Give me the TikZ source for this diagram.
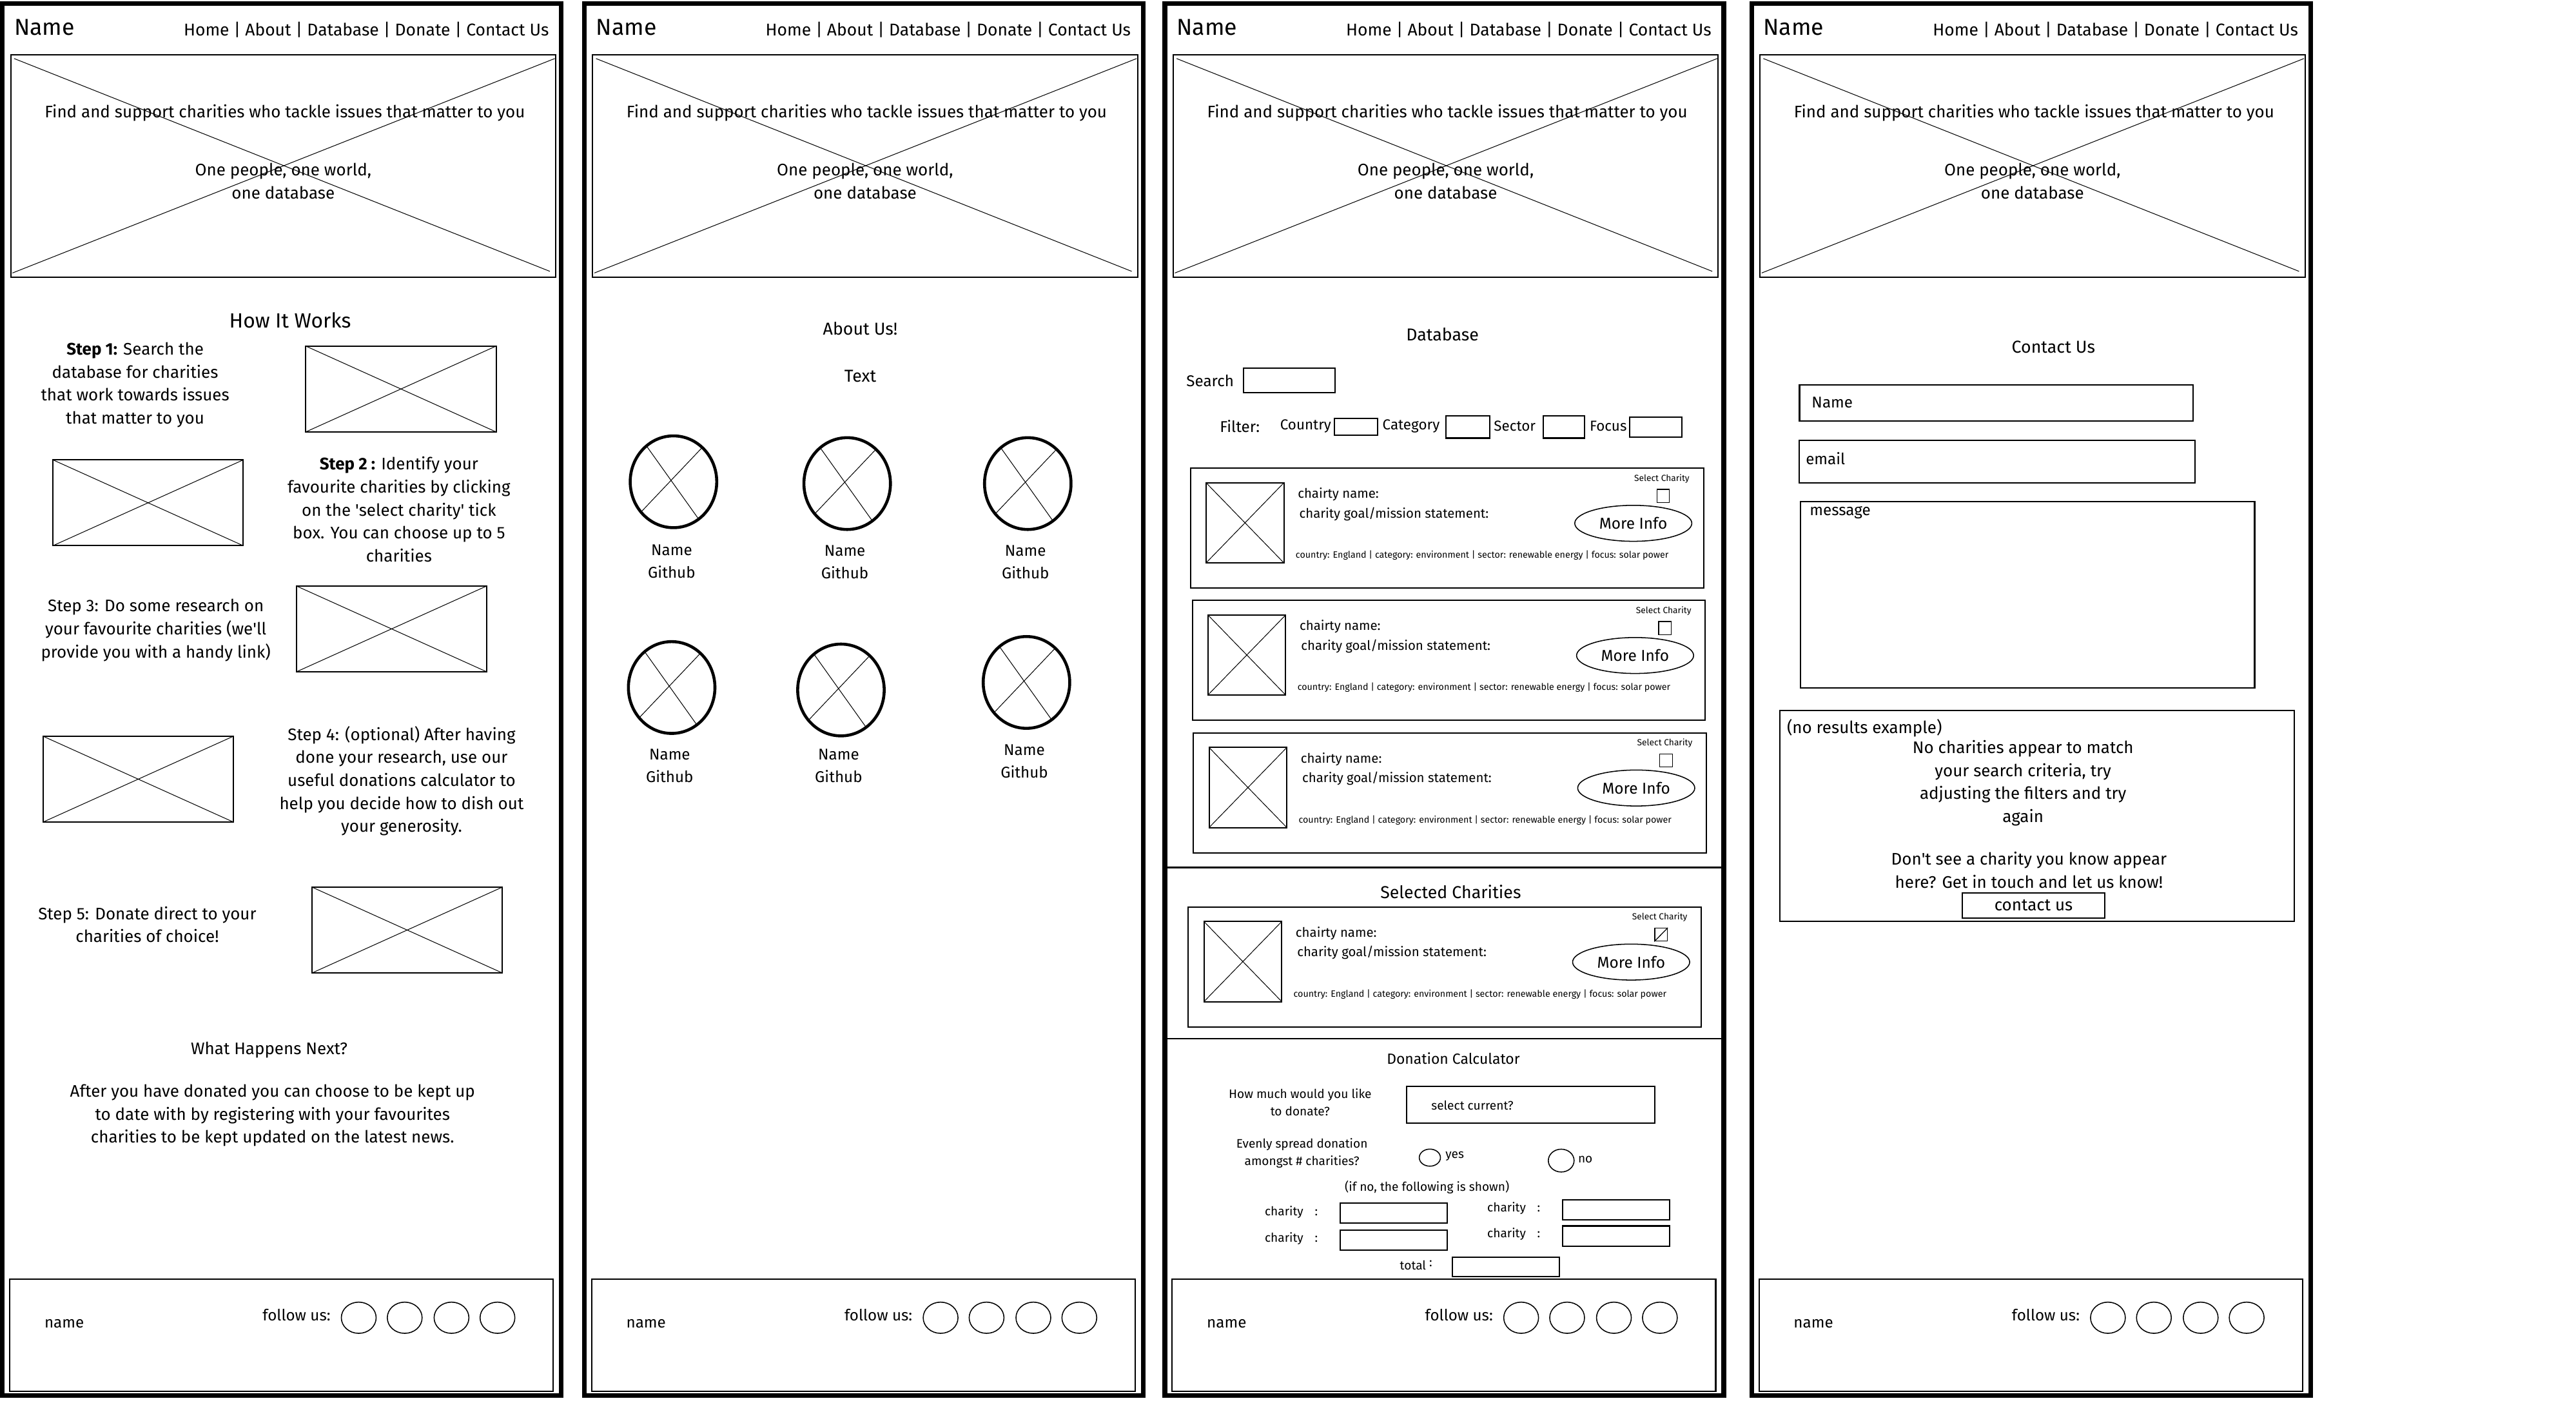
\documentclass[tikz,border=0pt]{standalone}
\usepackage{fontspec}
\setmainfont{Fira Sans}
\usepackage{tikz}
\usetikzlibrary{shapes.geometric}

\tikzset{
	page/.style={draw, line width=2.8pt, inner sep=0pt, minimum width=340.4pt, minimum height=848pt},
	outline/.style={draw, line width=0.8pt, inner sep=0pt},
	field/.style 2 args={outline, minimum width=#1pt, minimum height=#2pt},
	photo/.style 2 args={field={#1}{#2}, path picture={\draw [line width=0.4pt] (path picture bounding box.north west) -- (path picture bounding box.south east) (path picture bounding box.north east) -- (path picture bounding box.south west);}},
	txt/.style={inner sep=0pt, align=center, font=\fontsize{10.2}{14}\selectfont},
	caption/.style={txt, font=\fontsize{9.5}{13.7}\selectfont},
	head/.style={txt, font=\fontsize{10.5}{14}\selectfont},
	cardtext/.style={inner sep=0pt, align=center, font=\fontsize{8}{10.5}\selectfont},
	calctext/.style={inner sep=0pt, align=center, font=\fontsize{7.5}{10.5}\selectfont},
	finetext/.style={inner sep=0pt, font=\fontsize{5.4}{6}\selectfont},
	logo/.style={inner sep=0pt, anchor=west, font=\fontsize{14}{16}\selectfont},
	nav/.style={inner sep=0pt, anchor=east, font=\fontsize{10.4}{12}\selectfont},
	member/.style={draw, ellipse, line width=1.8pt, inner sep=0pt, outer sep=0pt, minimum width=52.7pt, minimum height=55.9pt},
	social/.style={draw, ellipse, line width=0.6pt, inner sep=0pt, minimum width=21.2pt, minimum height=19pt},
	info/.style={draw, ellipse, line width=0.6pt, inner sep=0pt, minimum width=71.3pt, minimum height=21.9pt, font=\fontsize{9.6}{10}\selectfont},
	radio/.style 2 args={draw, ellipse, line width=0.6pt, inner sep=0pt, minimum width=#1pt, minimum height=#2pt},
}

\begin{document}
\begin{tikzpicture}[x=1pt, y=-1pt]
	\fill [white, use as bounding box] (0,0) rectangle (1569,853);
	
	\foreach \p/\x in {home/1.5, about/355.9, database/709.5, contact/1066.9} {
	\node [page] (\p-page) at ({\x+170.2},426) {};
	\node [logo] (\p-logo) at ({\x+7},16.8) {Name};
	\node [nav] (\p-nav) at ({\x+333},18.3) {Home | About | Database | Donate | Contact Us};
	\node [field={332}{135.3}] (\p-hero) at ({\x+171},101.2) {};
	\draw [line width=0.4pt] ([shift={(2.5,2.5)}]\p-hero.north west) -- ([shift={(-4,-4)}]\p-hero.south east);
	\draw [line width=0.4pt] ([shift={(-1,2.5)}]\p-hero.north east) -- ([shift={(1.5,-3)}]\p-hero.south west);
	\node [txt] (\p-slogan) at ({\x+172},68.7) {Find and support charities who tackle issues that matter to you};
	\node [txt] (\p-motto) at ({\x+171},110.2) {One people, one world,\\one database};
	\node [field={331}{68.5}] (\p-footer) at ({\x+170},813.2) {};
	\node [caption, anchor=west] (\p-owner) at ({\x+25.4},806) {name};
	\node [caption, anchor=west] (\p-follow) at ({\x+158.3},801) {follow us:};
	\foreach \s [count=\i] in {217,245,273.5,301.5}
	\node [social] (\p-social-\i) at ({\x+\s},802.5) {};
	}
	
	\node [txt, font=\fontsize{12.5}{14}\selectfont] (how-title) at (176.7,195.1) {How It Works};
	\node [txt] (step-1) at (82.3,234.4) {\textbf{Step 1:} Search the\\database for charities\\that work towards issues\\that matter to you};
	\node [txt] (step-2) at (243,310.2) {\textbf{Step 2 :} Identify your\\favourite charities by clicking\\on the \textquotesingle select charity\textquotesingle{} tick\\box. You can choose up to 5\\charities};
	\node [txt] (step-3) at (94.9,383.8) {Step 3: Do some research on\\your favourite charities (we\textquotesingle ll\\provide you with a handy link)};
	\node [txt] (step-4) at (244.6,475.6) {Step 4: (optional) After having\\done your research, use our\\useful donations calculator to\\help you decide how to dish out\\your generosity.};
	\node [txt] (step-5) at (89.7,563) {Step 5: Donate direct to your\\charities of choice!};
	\foreach \n/\cx/\cy in {1/244.2/236.9, 2/90.2/306.2, 3/238.5/383, 4/84.2/474.5, 5/248/566.4}
	\node [photo={116}{52.3}] (step-\n-img) at (\cx,\cy) {};
	\node [txt] (next-title) at (164,639.5) {What Happens Next?};
	\node [txt] (next-text) at (166,679.3) {After you have donated you can choose to be kept up\\to date with by registering with your favourites\\charities to be kept updated on the latest news.};
	
	\node [head] (about-title) at (524,200.3) {About Us!};
	\node [head] (about-text) at (524,229.2) {Text};
	\foreach \m/\cx/\cy/\lx/\ly in {1/410.2/293.4/409.1/341.8, 2/516/294.5/514.6/342.4, 3/626/294.5/624.6/342.4, 4/409.1/418.7/407.9/466.5, 5/512.2/420.2/510.8/466.5, 6/625.2/415.6/623.9/463.5} {
	\node [member] (member-\m) at (\cx,\cy) {};
	\draw [line width=0.4pt] (member-\m.127) -- (member-\m.-56);
	\draw [line width=0.4pt] (member-\m.50) -- (member-\m.223);
	\node [caption] (member-\m-label) at (\lx,\ly) {Name\\Github};
	}
	
	\node [head] (db-title) at (878.6,203.5) {Database};
	\node [caption, anchor=west] (search-label) at (722.4,232) {Search};
	\node [field={56}{15}] (search-field) at (785.3,231.8) {};
	\node [caption, anchor=west] (filter-label) at (742.8,259.5) {Filter:};
	\foreach \f/\lx/\bx/\bw/\bh in {Country/779.5/826/26.4/10.2, Category/841.9/894/26.8/13.4, Sector/909.7/952.5/25.1/13.4, Focus/968.1/1008.5/31.9/12.3} {
	\node [caption, font=\fontsize{8.8}{10}\selectfont, anchor=west] (filter-\f) at (\lx,259.5) {\f};
	\node [field={\bw}{\bh}] (filter-\f-field) at (\bx,260.1) {};
	}
	\foreach \c/\cx/\cy in {1/724.7/284.8, 2/725.8/365.3, 3/726.5/446, 4/723.4/552} {
	\node [field={312.5}{73}, anchor=north west] (card-\c) at (\cx,\cy) {};
	\node [photo={47.4}{48.8}] (card-\c-img) at ([shift={(33.6,33.6)}]card-\c.north west) {};
	\node [cardtext, anchor=west] (card-\c-name) at ([shift={(65.6,16.3)}]card-\c.north west) {chairty name:};
	\node [cardtext, anchor=west] (card-\c-goal) at ([shift={(66.5,28.2)}]card-\c.north west) {charity goal/mission statement:};
	\node [finetext] (card-\c-select) at ([shift={(287.5,6.7)}]card-\c.north west) {Select Charity};
	\node [field={7.7}{7.9}, line width=0.5pt] (card-\c-tick) at ([shift={(288.3,17.2)}]card-\c.north west) {};
	\node [info] (card-\c-info) at ([shift={(270.1,33.9)}]card-\c.north west) {More Info};
	\node [finetext, font=\fontsize{5.6}{6}\selectfont, anchor=west] (card-\c-tags) at ([shift={(64.3,53.5)}]card-\c.north west) {country: England | category: environment | sector: renewable energy | focus: solar power};
	}
	\draw [line width=0.5pt] (card-4-tick.south west) -- (card-4-tick.north east);
	\draw [line width=0.8pt] (database-page.west |- 0,528.3) -- (database-page.east |- 0,528.3);
	\node [head] (selected-title) at (883.6,543) {Selected Charities};
	\draw [line width=0.8pt] (database-page.west |- 0,632.6) -- (database-page.east |- 0,632.6);
	\node [txt, font=\fontsize{9}{10}\selectfont] (calc-title) at (885.2,644.4) {Donation Calculator};
	\node [calctext] (amount-label) at (791.9,671.2) {How much would you like\\to donate?};
	\node [field={151.2}{22.3}] (amount-field) at (932.4,672.9) {};
	\node [calctext, anchor=west] (amount-hint) at (871.6,673) {select current?};
	\node [calctext] (spread-label) at (793,702.2) {Evenly spread donation\\amongst \# charities?};
	\node [radio={12.9}{10.4}] (spread-yes) at (870.9,705) {};
	\node [calctext, anchor=west] (spread-yes-label) at (880.2,704.1) {yes};
	\node [radio={15.7}{13.9}] (spread-no) at (950.9,706.8) {};
	\node [calctext, anchor=west] (spread-no-label) at (961,706.3) {no};
	\node [calctext] (split-note) at (869.2,722.9) {(if no, the following is shown)};
	\foreach \k/\lx/\ly/\bx/\by in {1/770.2/738.1/848.9/738.9, 2/770.2/754.3/848.9/755.4, 3/905.7/735.8/984.4/736.9, 4/905.7/751.6/984.4/752.7} {
	\node [calctext, anchor=west] (split-\k-label) at (\lx,\ly) {charity\hspace{7pt}:};
	\node [field={65.4}{12.2}] (split-\k-field) at (\bx,\by) {};
	}
	\node [calctext, anchor=west] (total-label) at (852.5,770.5) {total \raisebox{2pt}{:}};
	\node [field={65.4}{12}] (total-field) at (917.2,771.5) {};
	
	\node [head] (contact-title) at (1250.7,211.3) {Contact Us};
	\node [field={239.7}{22}] (name-field) at (1215.9,245.5) {};
	\node [caption, anchor=west] (name-hint) at (1103.3,245) {Name};
	\node [field={241}{25.8}] (email-field) at (1216.5,281.2) {};
	\node [caption, anchor=west] (email-hint) at (1099.7,279.4) {email};
	\node [field={276.7}{113.6}] (message-field) at (1234.9,362.2) {};
	\node [caption, anchor=west] (message-hint) at (1102.1,312.1) {message};
	\node [field={313.3}{128.4}] (empty-box) at (1240.6,496.8) {};
	\node [txt, anchor=west] (empty-note) at (1088.2,443.6) {(no results example)};
	\node [txt] (empty-text) at (1232.2,476.9) {No charities appear to match\\your search criteria, try\\adjusting the filters and try\\again};
	\node [txt] (empty-hint) at (1235.8,530) {Don\textquotesingle t see a charity you know appear\\here? Get in touch and let us know!};
	\node [field={86.8}{15.2}, txt] (contact-button) at (1238.6,551.4) {contact us};
	
\end{tikzpicture}
\end{document}
